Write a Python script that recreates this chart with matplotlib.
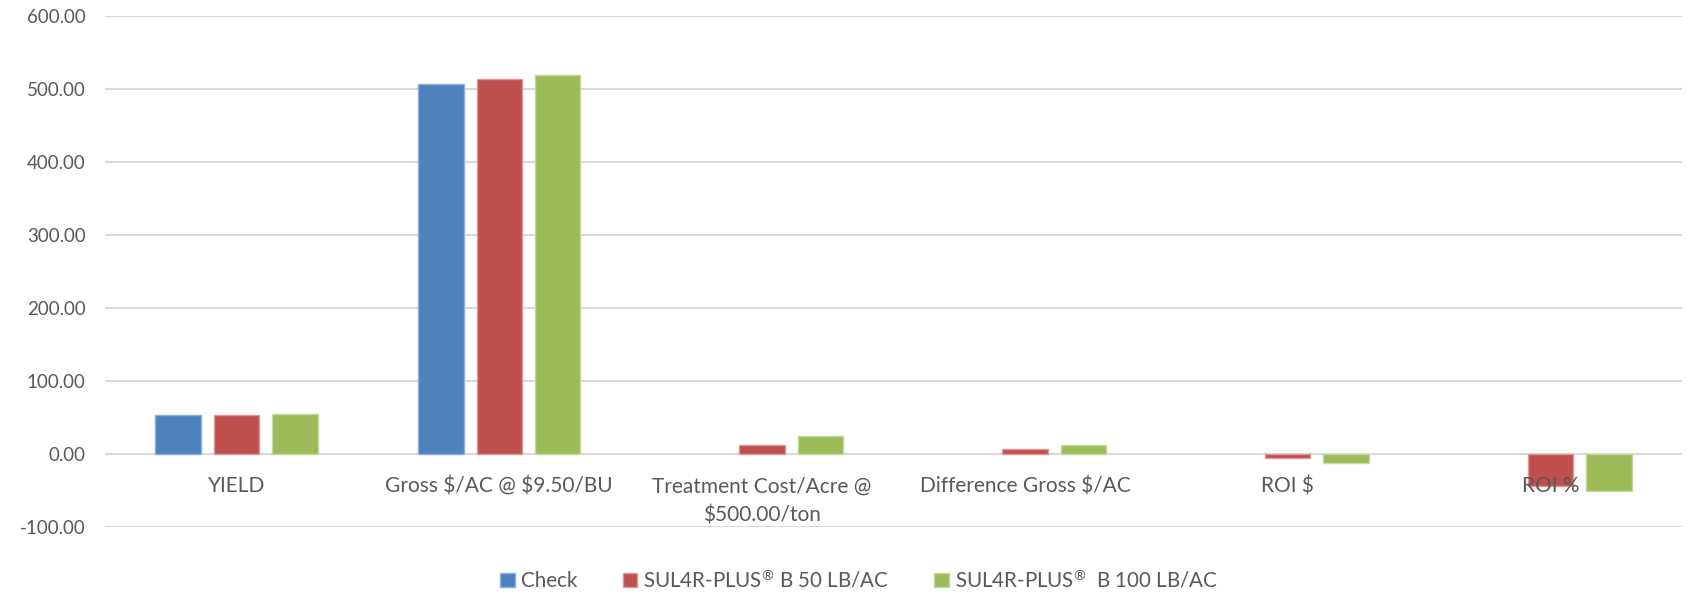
import matplotlib
matplotlib.use("Agg")
import matplotlib.pyplot as plt
import numpy as np

categories = ["YIELD", "Gross \\$/AC @ \\$9.50/BU", "Treatment Cost/Acre @\n\\$500.00/ton",
              "Difference Gross \\$/AC", "ROI \\$", "ROI %"]
series_names = ["Check", "SUL4R-PLUS$^{®}$ B 50 LB/AC", "SUL4R-PLUS$^{®}$  B 100 LB/AC"]
check = [53.3, 506.4, 0.0, 0.0, 0.0, 0.0]
b50 = [54.0, 513.4, 12.5, 7.0, -5.5, -44.5]
b100 = [54.6, 518.7, 25.0, 12.3, -12.7, -51.0]
yticks = [-100, 0, 100, 200, 300, 400, 500, 600]

colors = ["#4F81BD", "#C0504D", "#9BBB59"]
edges = ["#8DB0DA", "#DD9A98", "#C4D99E"]

plt.rcParams['font.family'] = ['Lato', 'DejaVu Sans']
plt.rcParams['mathtext.fontset'] = 'custom'
plt.rcParams['mathtext.rm'] = 'Lato'
plt.rcParams['mathtext.it'] = 'Lato'

fig = plt.figure(figsize=(16.94, 5.92), dpi=100)
ax = fig.add_axes([105/1694, 1-527/592, (1682-105)/1694, (527-16)/592])

x = np.arange(len(categories))
width = 0.173
step = 0.222
for i, (vals, name) in enumerate(zip([check, b50, b100], series_names)):
    lw = [1.0 if v != 0 else 0.0 for v in vals]
    ax.bar(x + (i-1)*step, vals, width, color=colors[i], edgecolor=edges[i],
           linewidth=lw, label=name, zorder=2)

ax.set_ylim(-100, 600)
ax.set_xlim(-0.5, len(categories)-0.5)
ax.set_yticks(yticks)
ax.set_yticklabels([f"{v:.2f}" for v in yticks])
ax.yaxis.grid(True, color="#D9D9D9", linewidth=1.5)
ax.set_axisbelow(True)
ax.xaxis.set_zorder(5)
for s in ["top", "right", "left"]:
    ax.spines[s].set_visible(False)
ax.spines['bottom'].set_position(('data', 0))
ax.spines['bottom'].set_visible(False)
ax.set_xticks(x)
ax.set_xticklabels(categories, linespacing=1.6)
ax.tick_params(axis='both', length=0, labelcolor="#595959")
ax.tick_params(axis='x', pad=16, labelsize=15)
ax.tick_params(axis='y', pad=14, labelsize=13.5)

handles, labels = ax.get_legend_handles_labels()
leg = fig.legend(handles, labels, loc='center', bbox_to_anchor=(859/1694, 1-580/592),
                 ncol=3, frameon=False, fontsize=14.8, handlelength=0.7, handleheight=0.7,
                 handletextpad=0.3, columnspacing=2.2)
for t in leg.get_texts():
    t.set_color("#595959")

fig.savefig("out.png", dpi=100)
